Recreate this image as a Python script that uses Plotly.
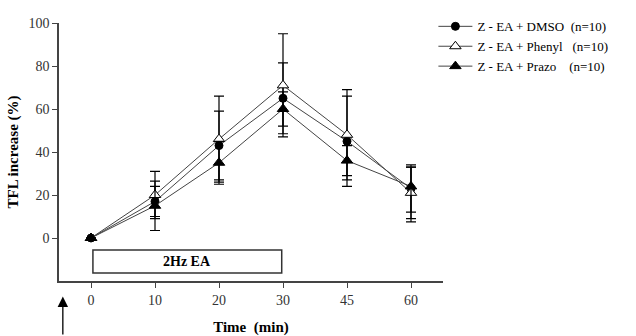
import plotly.graph_objects as go

time_labels = ["0", "10", "20", "30", "45", "60"]

dmso = [0, 17, 43, 65, 45, 23]
dmso_err_plus = [0, 7, 16, 16.5, 21, 11]
dmso_err_minus = [0, 7, 16, 16.5, 21, 11]

phenyl = [0, 20, 46, 71, 48, 21]
phenyl_err_plus = [0, 11, 20, 24, 21, 12]
phenyl_err_minus = [0, 11, 20, 24, 21, 12]

prazo = [0, 15, 35, 60, 36, 24]
prazo_err_plus = [0, 11.5, 10, 8, 7, 9]
prazo_err_minus = [0, 11.5, 10, 8, 7, 16.5]

names = ["Z - EA + DMSO\u00a0\u00a0(n=10)",
         "Z - EA + Phenyl\u00a0\u00a0\u00a0(n=10)",
         "Z - EA + Prazo\u00a0\u00a0\u00a0\u00a0(n=10)"]

SERIF = "Times New Roman, Liberation Serif, serif"

fig = go.Figure()

series = [
    (dmso, dmso_err_plus, dmso_err_minus, dict(symbol="circle", color="black", size=8, line=dict(color="black", width=1))),
    (phenyl, phenyl_err_plus, phenyl_err_minus, dict(symbol="triangle-up", color="white", size=10, line=dict(color="black", width=1))),
    (prazo, prazo_err_plus, prazo_err_minus, dict(symbol="triangle-up", color="black", size=10, line=dict(color="black", width=1))),
]

for (vals, ep, em, marker), name in zip(series, names):
    fig.add_trace(go.Scatter(
        x=time_labels, y=vals, name=name, mode="lines+markers",
        line=dict(color="#444444", width=1),
        marker=marker,
        error_y=dict(type="data", array=ep, arrayminus=em, symmetric=False,
                     color="black", thickness=1.2, width=5),
        cliponaxis=False,
    ))

fig.add_shape(type="rect", xref="x", yref="y", x0=0.03, x1=2.98, y0=-16.3, y1=-5.6,
              line=dict(color="#333333", width=1.5), fillcolor="white", layer="below")
fig.add_annotation(x=1.5, y=-11, xref="x", yref="y", text="<b>2Hz EA</b>", showarrow=False,
                   font=dict(family=SERIF, size=14, color="black"))

# arrow below axis
fig.add_annotation(x=-0.44, y=-0.06, xref="x", yref="paper", text="", showarrow=True,
                   ax=0, ay=42, arrowhead=2, arrowsize=1.6, arrowwidth=1.3, arrowcolor="black")

fig.update_xaxes(
    type="category", range=[-0.5, 5.5], showline=True, linecolor="#444444", linewidth=1.5,
    ticks="outside", ticklen=5, tickcolor="#444444", tickwidth=1.2,
    showgrid=False, zeroline=False,
    tickfont=dict(family=SERIF, size=14, color="#333333"),
    title=dict(text="<b>Time  (min)</b>", font=dict(family=SERIF, size=15, color="black"), standoff=16),
)
fig.update_yaxes(
    range=[-20, 100], tickvals=[0, 20, 40, 60, 80, 100], showline=True, linecolor="#444444",
    linewidth=1.5, ticks="outside", ticklen=5, tickcolor="#444444", tickwidth=1.2,
    showgrid=False, zeroline=False,
    tickfont=dict(family=SERIF, size=14, color="#333333"),
    title=dict(text="<b>TFL increase (%)</b>", font=dict(family=SERIF, size=15, color="black"), standoff=6),
)

fig.update_layout(
    width=636, height=336,
    margin=dict(l=59, r=193, t=23, b=55, autoexpand=False),
    paper_bgcolor="white", plot_bgcolor="white",
    showlegend=True,
    legend=dict(x=0.975, y=1.045, xanchor="left", yanchor="top",
                font=dict(family=SERIF, size=13, color="black"),
                bgcolor="rgba(0,0,0,0)", tracegroupgap=0, itemwidth=34),
)

fig.write_html("out.html")
